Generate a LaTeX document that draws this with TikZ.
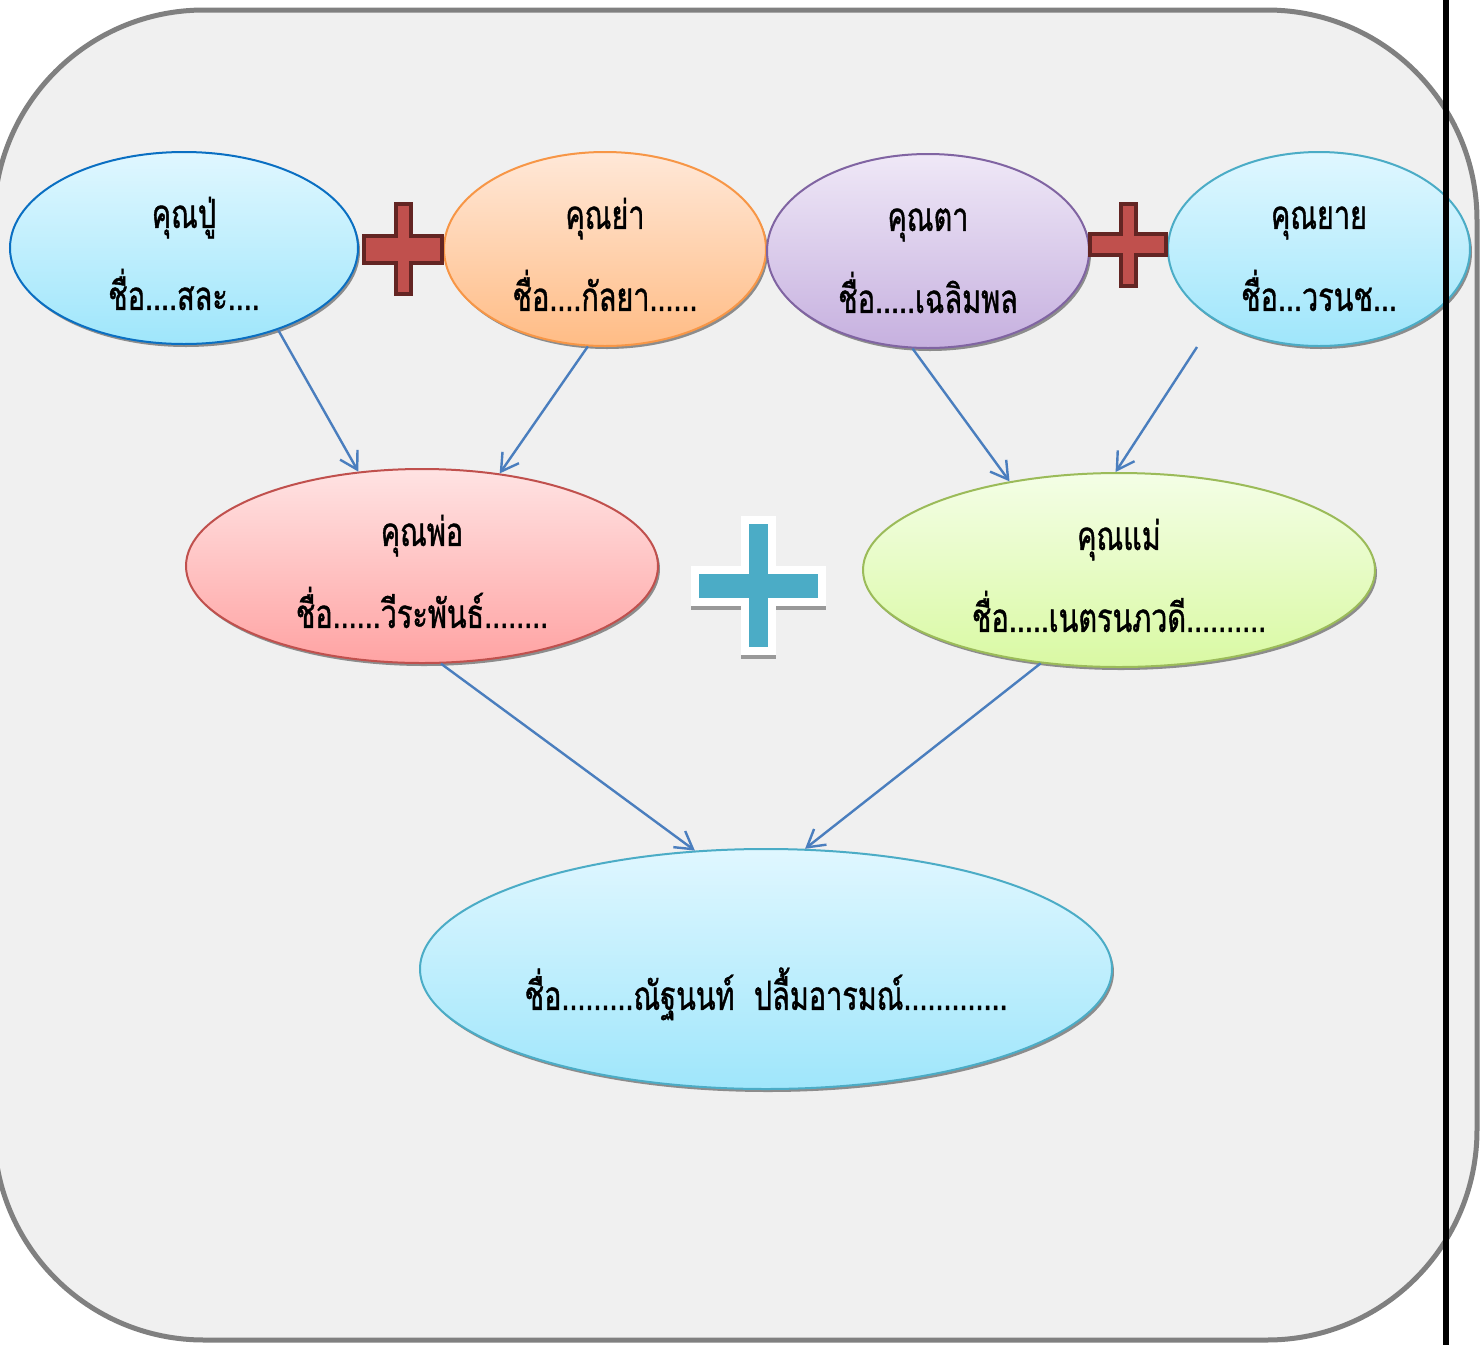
\documentclass[tikz,border=0pt]{standalone}
\usepackage{fontspec}
\newfontfamily\thaifont[Script=Thai,FakeStretch=0.72,FakeBold=1]{Loma}
\usetikzlibrary{arrows.meta,shapes.geometric,shadows}
\definecolor{panelfill}{HTML}{F0F0F0}
\definecolor{paneldraw}{HTML}{808080}
\definecolor{cyantop}{HTML}{E0F7FF}
\definecolor{cyanbot}{HTML}{9FE6FB}
\definecolor{orangetop}{HTML}{FFE8D8}
\definecolor{orangebot}{HTML}{FFBC85}
\definecolor{purpletop}{HTML}{EFE8F7}
\definecolor{purplebot}{HTML}{C6B0DF}
\definecolor{redtop}{HTML}{FFE3E3}
\definecolor{redbot}{HTML}{FFA3A3}
\definecolor{greentop}{HTML}{F4FEE6}
\definecolor{greenbot}{HTML}{D9F9A3}
\definecolor{pudraw}{HTML}{0A6FC2}
\definecolor{tealdraw}{HTML}{4BACC6}
\definecolor{orangedraw}{HTML}{F79646}
\definecolor{purpledraw}{HTML}{8064A2}
\definecolor{reddraw}{HTML}{C0504D}
\definecolor{greendraw}{HTML}{9BBB59}
\definecolor{linkblue}{HTML}{4A7EBE}
\definecolor{plusred}{HTML}{C0504D}
\definecolor{plusdark}{HTML}{632523}
\definecolor{plusteal}{HTML}{4BACC6}

\begin{document}
\begin{tikzpicture}[x=0.5pt,y=-0.5pt,
  person/.style={ellipse,draw,line width=1pt,inner sep=0pt,align=center,
    font=\thaifont\fontsize{20}{41}\selectfont,
    drop shadow={shadow xshift=1pt,shadow yshift=-1.5pt,fill=black!45,opacity=1}},
  link/.style={draw=linkblue,line width=1.2pt,-{Straight Barb[length=8.5pt,width=10pt]}},
  redplus/.style={fill=plusred,draw=plusdark,line width=2pt},
  bigplus/.style={fill=plusteal,draw=white,line width=4pt}]
\useasboundingbox (0,0) rectangle (1480,1345);
\draw [fill=panelfill,draw=paneldraw,line width=2.5pt,rounded corners=105pt]
  (-6,10) rectangle (1477,1340);

\node [person,minimum width=174pt,minimum height=96pt,top color=cyantop,bottom color=cyanbot,draw=pudraw]
  (pu) at (184,248) {\rule{0pt}{21pt}คุณปู่\\ชื่อ....สละ....};
\node [person,minimum width=161pt,minimum height=97pt,top color=orangetop,bottom color=orangebot,draw=orangedraw]
  (ya) at (605,249) {\rule{0pt}{21pt}คุณย่า\\ชื่อ....กัลยา......};
\node [person,minimum width=161pt,minimum height=97pt,top color=purpletop,bottom color=purplebot,draw=purpledraw]
  (ta) at (928,251) {\rule{0pt}{21pt}คุณตา\\ชื่อ.....เฉลิมพล};
\node [person,minimum width=151pt,minimum height=97pt,top color=cyantop,bottom color=cyanbot,draw=tealdraw]
  (yai) at (1319,249) {\rule{0pt}{21pt}คุณยาย\\ชื่อ...วรนช...};
\node [person,minimum width=236pt,minimum height=97pt,top color=redtop,bottom color=redbot,draw=reddraw]
  (pho) at (422,566) {\rule{0pt}{21pt}คุณพ่อ\\ชื่อ......วีระพันธ์........};
\node [person,minimum width=256pt,minimum height=97pt,top color=greentop,bottom color=greenbot,draw=greendraw]
  (mae) at (1119,570) {\rule{0pt}{21pt}คุณแม่\\ชื่อ.....เนตรนภวดี..........};
\node [person,minimum width=346pt,minimum height=120pt,top color=cyantop,bottom color=cyanbot,draw=tealdraw]
  (luk) at (766,969) {\mbox{}\\[5pt]ชื่อ.........ณัฐนนท์~~ปลื้มอารมณ์.............};

% plus signs
\draw [redplus] (396,204) -- (411,204) -- (411,236) -- (442,236) -- (442,263) -- (411,263)
  -- (411,294) -- (396,294) -- (396,263) -- (364,263) -- (364,236) -- (396,236) -- cycle;
\draw [redplus] (1121,204) -- (1136,204) -- (1136,234) -- (1166,234) -- (1166,255) -- (1136,255)
  -- (1136,286) -- (1121,286) -- (1121,255) -- (1090,255) -- (1090,234) -- (1121,234) -- cycle;
\draw [bigplus,fill=black!40,draw=black!40,yshift=-2pt] (745,520) -- (772,520) -- (772,570) -- (822,570) -- (822,602) -- (772,602)
  -- (772,651) -- (745,651) -- (745,602) -- (695,602) -- (695,570) -- (745,570) -- cycle;
\draw [bigplus] (745,520) -- (772,520) -- (772,570) -- (822,570) -- (822,602) -- (772,602)
  -- (772,651) -- (745,651) -- (745,602) -- (695,602) -- (695,570) -- (745,570) -- cycle;

\coordinate (yaifoot) at ([xshift=-61pt]yai.south);
\draw [link] (pu.-41) -- (pho.124);
\draw [link] (ya.-100) -- (pho.50);
\draw [link] (ta.-99) -- (mae.141);
\draw [link] (yaifoot) -- (mae.92);
\draw [link] (pho.-79) -- (luk.121);
\draw [link] (mae.-130) -- (luk.72);

\draw [line width=3pt] (1446,0) -- (1446,1345);
\end{tikzpicture}
\end{document}
